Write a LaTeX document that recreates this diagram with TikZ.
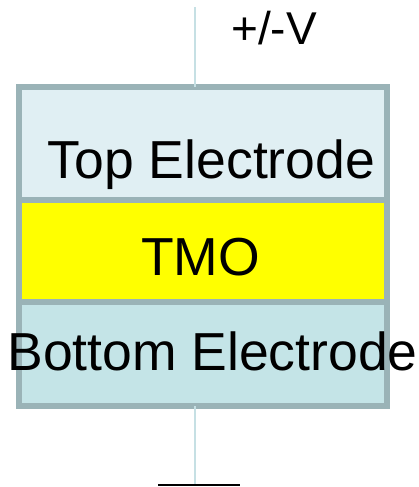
\documentclass[tikz,border=0pt]{standalone}
\usepackage{fontspec}
\setmainfont{Liberation Sans}
\usepackage{xcolor}
\usetikzlibrary{positioning}

\definecolor{rimgray}{HTML}{9AB3B7}
\definecolor{topfill}{HTML}{E0EFF3}
\definecolor{botfill}{HTML}{C4E4E7}
\definecolor{tmofill}{HTML}{FFFF00}
\definecolor{wirecol}{HTML}{C6E0E4}

\begin{document}
\begin{tikzpicture}[
    x=1pt, y=-1pt,
    layer/.style={draw=rimgray, line width=6pt, inner sep=0pt, outer sep=0pt,
                  minimum width=368pt},
    label/.style={anchor=base, inner sep=0pt, font=\fontsize{53.5}{62}\selectfont},
    wire/.style={draw=wirecol, line width=1.5pt},
    node distance=0pt
]
\useasboundingbox (0,0) rectangle (419,487);

\node[layer, fill=topfill, minimum height=113pt] (top) at (203,143.5) {};
\node[layer, fill=tmofill, minimum height=102pt, below=of top] (tmo) {};
\node[layer, fill=botfill, minimum height=104pt, below=of tmo] (bot) {};

\node[label] (toptxt) at (211.5,178) {Top Electrode};
\node[label] (tmotxt) at (200.5,275) {TMO};
\node[label] (bottxt) at (212.5,370) {Bottom Electrode};
\node[label, font=\fontsize{46}{54}\selectfont] (volt) at (274,45) {+/-V};

\coordinate (vin) at (195,7);
\coordinate (gnd) at (195,485);
\draw[wire] (vin) -- (vin |- top.north);
\draw[wire] (gnd |- bot.south) -- (gnd);
\draw[line width=2.5pt] ([xshift=-37pt]gnd) -- ([xshift=45pt]gnd);
\end{tikzpicture}
\end{document}
